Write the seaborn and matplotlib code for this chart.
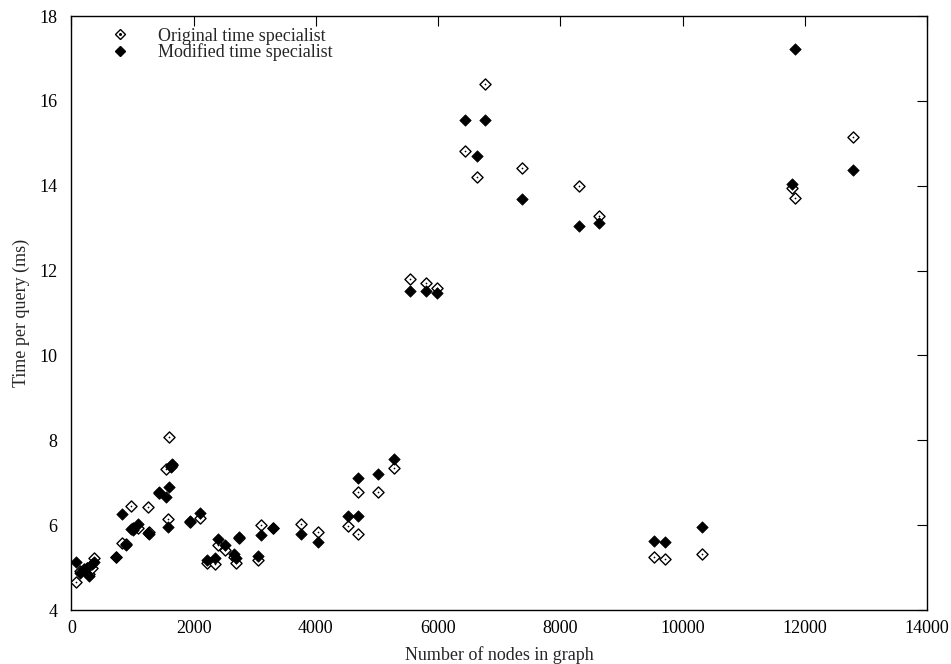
import matplotlib
matplotlib.use("Agg")
import matplotlib.pyplot as plt
import seaborn as sns
import pandas as pd

# node counts shared by both runs
nodes = [80, 140, 200, 250, 290, 330, 370, 730, 830, 893,
         969, 1010, 1094, 1258, 1270, 1437, 1553, 1574, 1601, 1628,
         1650, 1939, 2110, 2223, 2348, 2397, 2507, 2664, 2686, 2735,
         3046, 3095, 3302, 3755, 4028, 4528, 4682, 4690, 5009, 5276,
         5540, 5794, 5984, 6448, 6638, 6775, 7374, 8301, 8628, 9532,
         9707, 10312, 11790, 11840, 12790]

original_ms = [4.67, 4.93, 4.97, 4.99, 4.85, 5.00, 5.22, 5.24, 5.57, 5.56,
               6.44, 5.93, 5.94, 6.42, 5.85, 6.75, 7.32, 6.14, 8.07, 7.40,
               7.42, 6.08, 6.16, 5.10, 5.08, 5.53, 5.41, 5.26, 5.11, 5.69,
               5.19, 6.01, 5.93, 6.02, 5.83, 5.98, 5.78, 6.77, 6.79, 7.34,
               11.80, 11.71, 11.60, 14.82, 14.21, 16.39, 14.42, 13.99, 13.29, 5.26,
               5.20, 5.31, 13.94, 13.70, 15.15]

modified_ms = [5.12, 4.88, 4.94, 4.98, 4.79, 5.08, 5.14, 5.26, 6.26, 5.53,
               5.91, 5.89, 6.02, 5.81, 5.80, 6.79, 6.66, 5.95, 6.89, 7.38,
               7.43, 6.10, 6.29, 5.19, 5.23, 5.67, 5.53, 5.32, 5.23, 5.71,
               5.28, 5.76, 5.94, 5.78, 5.60, 6.22, 6.22, 7.11, 7.21, 7.57,
               11.52, 11.53, 11.46, 15.55, 14.69, 15.55, 13.68, 13.05, 13.11, 5.63,
               5.60, 5.96, 14.05, 17.22, 14.36]

x_ticks = [0, 2000, 4000, 6000, 8000, 10000, 12000, 14000]
y_ticks = [4, 6, 8, 10, 12, 14, 16, 18]

df = pd.DataFrame({"nodes": nodes, "orig": original_ms, "mod": modified_ms})

sns.set_style("white")
plt.rcParams["font.family"] = ["Liberation Serif", "DejaVu Serif"]

fig = plt.figure(figsize=(9.51, 6.64), dpi=100)
ax = fig.add_axes([0.0751, 0.0813, 0.8997, 0.8946])

sns.scatterplot(data=df, x="nodes", y="orig", marker="D", s=32,
                facecolor="white", edgecolor="black", linewidth=1.0, ax=ax, zorder=3)
sns.scatterplot(data=df, x="nodes", y="orig", marker="o", s=1.5,
                color="black", linewidth=0, ax=ax, zorder=4)
sns.scatterplot(data=df, x="nodes", y="mod", marker="D", s=34,
                color="black", edgecolor="black", linewidth=0.5, ax=ax, zorder=5)

ax.set_xlim(0, 14000)
ax.set_ylim(4, 18)
ax.set_xticks(x_ticks)
ax.set_yticks(y_ticks)
ax.tick_params(direction="in", length=7, width=0.8, top=True, right=True,
               labelsize=13, colors="black")
ax.tick_params(axis="x", pad=7)
ax.tick_params(axis="y", pad=10)
for sp in ax.spines.values():
    sp.set_color("black")
    sp.set_linewidth(1.0)

ax.set_xlabel("Number of nodes in graph", fontsize=13, labelpad=7)
ax.set_ylabel("Time per query (ms)", fontsize=13, labelpad=7)

# legend with the dotted open diamond and the filled one
h_open = plt.Line2D([], [], marker="D", ls="none", markersize=5,
                    markerfacecolor="white", markeredgecolor="black", markeredgewidth=1.0)
h_dot = plt.Line2D([], [], marker="o", ls="none", markersize=1.2,
                   markerfacecolor="black", markeredgecolor="black")
h_fill = plt.Line2D([], [], marker="D", ls="none", markersize=5.3,
                    markerfacecolor="black", markeredgecolor="black")
ax.legend([(h_open, h_dot), h_fill],
          ["Original time specialist", "Modified time specialist"],
          loc="upper left", bbox_to_anchor=(0.021, 1.008), frameon=False,
          fontsize=13, handletextpad=1.3, labelspacing=-0.05, handlelength=1.6)

fig.savefig("out.png", dpi=100)
